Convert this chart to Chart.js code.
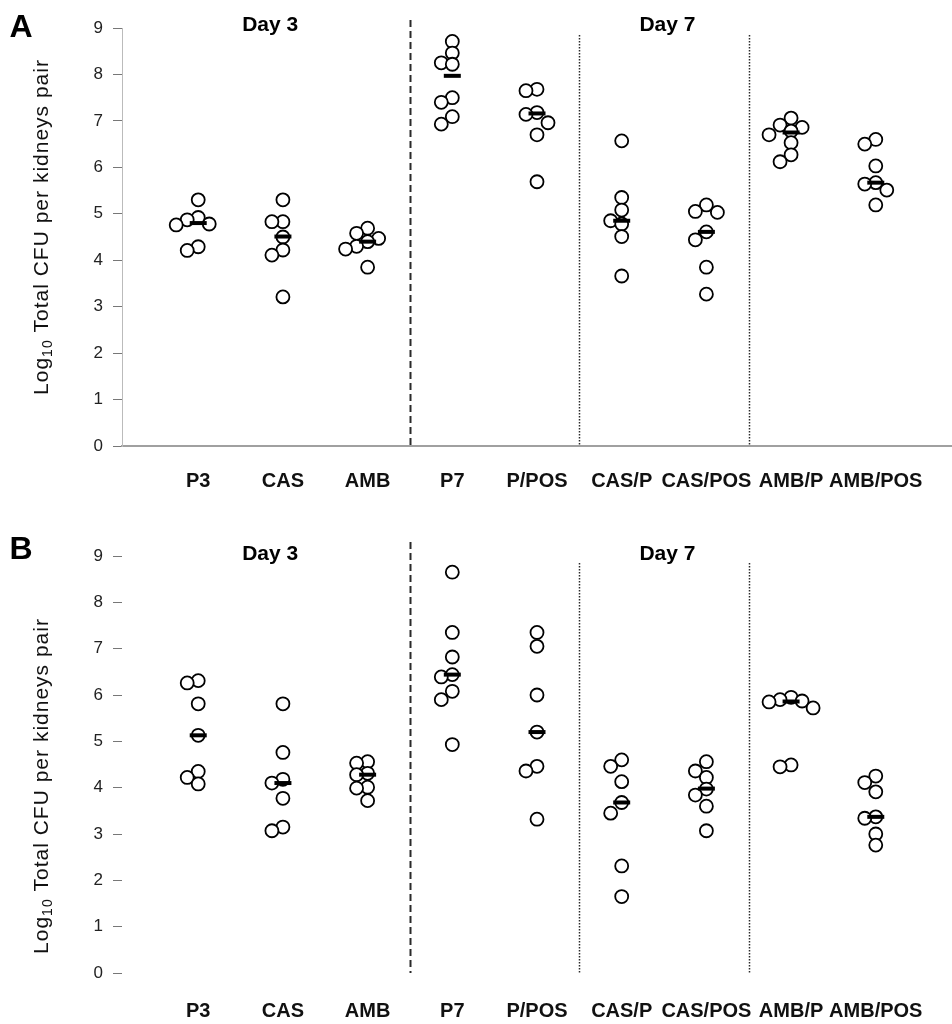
<!DOCTYPE html>
<html>
<head>
<meta charset="utf-8">
<script src="https://cdn.jsdelivr.net/npm/chart.js@4.4.1/dist/chart.umd.min.js"></script>
<style>
  body { margin: 0; background: #fff; }
  canvas { display: block; }
</style>
</head>
<body>
<canvas id="chartA" width="952" height="512"></canvas>
<canvas id="chartB" width="952" height="512"></canvas>
<script>
const groups = ['P3', 'CAS', 'AMB', 'P7', 'P/POS', 'CAS/P', 'CAS/POS', 'AMB/P', 'AMB/POS'];
const dividers = [2.5, 4.5, 6.5];

// panel A - log10 CFU per mouse, one array per group
const a_P3     = [5.30, 4.92, 4.87, 4.78, 4.76, 4.29, 4.21];
const a_CAS    = [5.30, 4.83, 4.83, 4.50, 4.22, 4.11, 3.21];
const a_AMB    = [4.69, 4.58, 4.47, 4.40, 4.30, 4.24, 3.85];
const a_P7     = [8.71, 8.46, 8.25, 8.22, 7.50, 7.40, 7.09, 6.93];
const a_PPOS   = [7.68, 7.65, 7.18, 7.14, 6.96, 6.70, 5.69];
const a_CASP   = [6.57, 5.35, 5.08, 4.85, 4.78, 4.51, 3.66];
const a_CASPOS = [5.19, 5.05, 5.03, 4.61, 4.44, 3.85, 3.27];
const a_AMBP   = [7.06, 6.91, 6.86, 6.78, 6.70, 6.53, 6.27, 6.12];
const a_AMBPOS = [6.60, 6.50, 6.03, 5.67, 5.64, 5.51, 5.19];
const a_median = [4.80, 4.51, 4.40, 7.97, 7.16, 4.85, 4.61, 6.75, 5.67];

// panel B
const b_P3     = [6.31, 6.26, 5.81, 5.13, 4.35, 4.22, 4.08];
const b_CAS    = [5.81, 4.76, 4.18, 4.10, 3.77, 3.15, 3.07];
const b_AMB    = [4.56, 4.53, 4.31, 4.28, 4.01, 3.99, 3.72];
const b_P7     = [8.65, 7.35, 6.82, 6.44, 6.39, 6.08, 5.90, 4.93];
const b_PPOS   = [7.35, 7.05, 6.00, 5.20, 4.46, 4.36, 3.32];
const b_CASP   = [4.60, 4.46, 4.13, 3.68, 3.45, 2.31, 1.65];
const b_CASPOS = [4.56, 4.36, 4.22, 3.97, 3.84, 3.60, 3.07];
const b_AMBP   = [5.95, 5.90, 5.87, 5.85, 5.72, 4.49, 4.45];
const b_AMBPOS = [4.25, 4.11, 3.91, 3.37, 3.34, 3.00, 2.76];
const b_median = [5.13, 4.10, 4.28, 6.44, 5.20, 3.68, 3.98, 5.86, 3.37];

const panelA = [a_P3, a_CAS, a_AMB, a_P7, a_PPOS, a_CASP, a_CASPOS, a_AMBP, a_AMBPOS];
const panelB = [b_P3, b_CAS, b_AMB, b_P7, b_PPOS, b_CASP, b_CASPOS, b_AMBP, b_AMBPOS];

// simple dot-plot dodge so circles don't sit on top of each other
function swarm(values, idx) {
  const placed = [];
  const offs = [0, -0.13, 0.13, -0.26, 0.26, -0.39, 0.39];
  values.slice().sort((p, q) => q - p).forEach(v => {
    let off = offs[offs.length - 1];
    for (const o of offs) {
      const ok = placed.every(p => Math.hypot((p.x - idx - o) * 84.7, (p.y - v) * 46.4) >= 11);
      if (ok) { off = o; break; }
    }
    placed.push({ x: idx + off, y: v });
  });
  return placed;
}

function decor(p) {
  return {
    id: 'decor' + p.letter,
    beforeDatasetsDraw(chart) {
      const { ctx, chartArea, scales: { x } } = chart;
      ctx.save();
      ctx.strokeStyle = '#2a2a2a';
      dividers.forEach((d, i) => {
        const px = Math.round(x.getPixelForValue(d)) + 0.5;
        ctx.beginPath();
        if (i === 0) { ctx.lineWidth = 2; ctx.setLineDash([7, 4]); ctx.moveTo(px, p.dashTop); }
        else { ctx.lineWidth = 1.5; ctx.setLineDash([1.5, 1.5]); ctx.moveTo(px, p.dotTop); }
        ctx.lineTo(px, chartArea.bottom);
        ctx.stroke();
      });
      ctx.restore();
    },
    afterDraw(chart) {
      const { ctx, scales: { x } } = chart;
      ctx.save();
      ctx.fillStyle = '#000';
      ctx.textAlign = 'center';
      ctx.textBaseline = 'middle';
      ctx.font = 'bold 32px "Liberation Sans", Arial, sans-serif';
      ctx.fillText(p.letter, 21, p.letterY);
      ctx.font = 'bold 21px "Liberation Sans", Arial, sans-serif';
      ctx.fillText('Day 3', x.getPixelForValue(0.85), p.dayY);
      ctx.fillText('Day 7', x.getPixelForValue(5.54), p.dayY);

      // y title with subscript
      ctx.translate(41, p.titleY);
      ctx.rotate(-Math.PI / 2);
      ctx.textAlign = 'left';
      ctx.textBaseline = 'alphabetic';
      ctx.fillStyle = '#111';
      ctx.letterSpacing = '1px';
      const big = '21px "Liberation Sans", Arial, sans-serif';
      const small = '14px "Liberation Sans", Arial, sans-serif';
      ctx.font = big;
      const w1 = ctx.measureText('Log').width;
      const w3 = ctx.measureText(' Total CFU per kidneys pair').width;
      ctx.font = small;
      const w2 = ctx.measureText('10').width;
      let sx = -(w1 + w2 + w3) / 2;
      ctx.font = big;
      ctx.fillText('Log', sx, 7);
      ctx.font = small;
      ctx.fillText('10', sx + w1, 11);
      ctx.font = big;
      ctx.fillText(' Total CFU per kidneys pair', sx + w1 + w2, 7);
      ctx.restore();
    }
  };
}

function makeChart(id, values, medians, p) {
  const pts = [];
  values.forEach((vals, i) => pts.push(...swarm(vals, i)));
  new Chart(document.getElementById(id), {
    type: 'scatter',
    data: {
      datasets: [
        {
          label: 'median',
          data: medians.map((m, i) => ({ x: i, y: m })),
          pointStyle: 'line',
          pointRadius: 8.5,
          borderWidth: 4,
          borderColor: '#000'
        },
        {
          label: 'mice',
          data: pts,
          pointRadius: 6.5,
          borderWidth: 1.8,
          borderColor: '#000',
          backgroundColor: '#fff'
        }
      ]
    },
    options: {
      responsive: false,
      animation: false,
      layout: { autoPadding: false, padding: { top: p.top, left: 0, right: 0, bottom: 0 } },
      plugins: { legend: { display: false }, tooltip: { enabled: false } },
      scales: {
        x: {
          type: 'linear',
          min: -0.9,
          max: 8.9,
          afterFit(s) { s.height = p.xHeight; s.paddingLeft = 0; s.paddingRight = 0; },
          afterBuildTicks(s) { s.ticks = groups.map((g, i) => ({ value: i })); },
          grid: { display: false, drawTicks: false },
          border: { display: p.axisLines, color: '#a0a0a0', width: 2 },
          ticks: {
            autoSkip: false,
            maxRotation: 0,
            padding: p.labelPad,
            color: '#111',
            font: { family: '"Liberation Sans", Arial, sans-serif', size: 20, weight: 'bold' },
            callback: v => groups[v]
          }
        },
        y: {
          min: 0,
          max: 9,
          afterFit(s) { s.width = 122; },
          grid: { drawOnChartArea: false, tickLength: 9, color: '#777', lineWidth: 1 },
          border: { display: p.axisLines, color: '#bbb', width: 1, dash: [1, 1] },
          ticks: {
            stepSize: 1,
            padding: 10,
            color: '#222',
            font: { family: '"Liberation Sans", Arial, sans-serif', size: 17 }
          }
        }
      }
    },
    plugins: [decor(p)]
  });
}

makeChart('chartA', panelA, a_median, {
  letter: 'A', letterY: 28, dayY: 25, titleY: 227, dashTop: 20, dotTop: 35,
  top: 28, xHeight: 66, labelPad: 23, axisLines: true
});
makeChart('chartB', panelB, b_median, {
  letter: 'B', letterY: 38, dayY: 42, titleY: 274, dashTop: 30, dotTop: 51,
  top: 44, xHeight: 51, labelPad: 26, axisLines: false
});
</script>
</body>
</html>
